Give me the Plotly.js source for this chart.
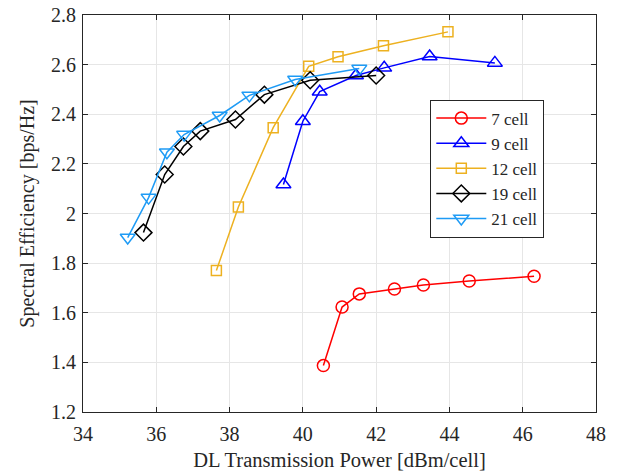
<!DOCTYPE html>
<html>
<head>
<meta charset="utf-8">
<script src="https://cdn.plot.ly/plotly-3.0.1.min.js"></script>
<style>html,body{margin:0;padding:0;background:#fff;}#chart{width:622px;height:475px;}</style>
</head>
<body>
<div id="chart"></div>
<script>
const names = ["7 cell", "9 cell", "12 cell", "19 cell", "21 cell"];

const x7 = [40.56, 41.07, 41.54, 42.50, 43.29, 44.54, 46.31];
const y7 = [1.387, 1.623, 1.676, 1.696, 1.712, 1.728, 1.747];

const x9 = [39.47, 40.00, 40.46, 41.45, 42.22, 43.46, 45.24];
const y9 = [2.117, 2.372, 2.491, 2.556, 2.587, 2.633, 2.607];

const x12 = [37.64, 38.24, 39.19, 40.16, 40.96, 42.20, 43.96];
const y12 = [1.770, 2.026, 2.346, 2.593, 2.632, 2.676, 2.732];

const x19 = [35.65, 36.23, 36.74, 37.20, 38.16, 38.95, 40.20, 42.00];
const y19 = [1.923, 2.157, 2.270, 2.332, 2.379, 2.479, 2.537, 2.556];

const x21 = [35.22, 35.79, 36.29, 36.76, 37.73, 38.54, 39.79, 41.54];
const y21 = [1.903, 2.064, 2.247, 2.318, 2.395, 2.476, 2.540, 2.584];

const xTicks = [34, 36, 38, 40, 42, 44, 46, 48];
const yTicks = [1.2, 1.4, 1.6, 1.8, 2, 2.2, 2.4, 2.6, 2.8];

const styles = [
  {color: "#FF0000", symbol: "circle-open", size: 12},
  {color: "#0000FF", symbol: "triangle-up-open", size: 13},
  {color: "#EDB120", symbol: "square-open", size: 10},
  {color: "#000000", symbol: "diamond-open", size: 13},
  {color: "#1E9BF5", symbol: "triangle-down-open", size: 13}
];
const xs = [x7, x9, x12, x19, x21];
const ys = [y7, y9, y12, y19, y21];

const data = names.map((n, i) => ({
  x: xs[i], y: ys[i], name: n, type: "scatter", mode: "lines+markers",
  line: {color: styles[i].color, width: 1.5},
  marker: {symbol: styles[i].symbol, size: styles[i].size, color: styles[i].color,
           line: {color: styles[i].color, width: 1.5}}
}));

const font = {family: "Liberation Serif", color: "#262626"};

const layout = {
  width: 622, height: 475,
  margin: {l: 83, r: 26, t: 15, b: 63},
  paper_bgcolor: "#ffffff", plot_bgcolor: "#ffffff",
  font: Object.assign({size: 20}, font),
  showlegend: true,
  legend: {
    x: 0.677, y: 0.787, xanchor: "left", yanchor: "top",
    bgcolor: "#ffffff", bordercolor: "#262626", borderwidth: 1,
    font: Object.assign({size: 17}, font), itemwidth: 50, tracegroupgap: 0
  },
  xaxis: {
    range: [34, 48], tickvals: xTicks, ticktext: xTicks.map(String),
    showgrid: true, gridcolor: "#e6e6e6", gridwidth: 1,
    showline: true, linecolor: "#262626", linewidth: 1, mirror: "allticks",
    ticks: "inside", ticklen: 5, tickcolor: "#262626", zeroline: false,
    ticklabelstandoff: 4,
    tickfont: Object.assign({size: 20}, font),
    title: {text: "DL Transmission Power [dBm/cell]", font: Object.assign({size: 20.5}, font), standoff: 8}
  },
  yaxis: {
    range: [1.2, 2.8], tickvals: yTicks, ticktext: yTicks.map(String),
    showgrid: true, gridcolor: "#e6e6e6", gridwidth: 1,
    showline: true, linecolor: "#262626", linewidth: 1, mirror: "allticks",
    ticks: "inside", ticklen: 5, tickcolor: "#262626", zeroline: false,
    ticklabelstandoff: 2,
    tickfont: Object.assign({size: 20}, font),
    title: {text: "Spectral Efficiency [bps/Hz]", font: Object.assign({size: 20}, font), standoff: 11}
  }
};

Plotly.newPlot("chart", data, layout, {displayModeBar: false, staticPlot: true});
</script>
</body>
</html>
